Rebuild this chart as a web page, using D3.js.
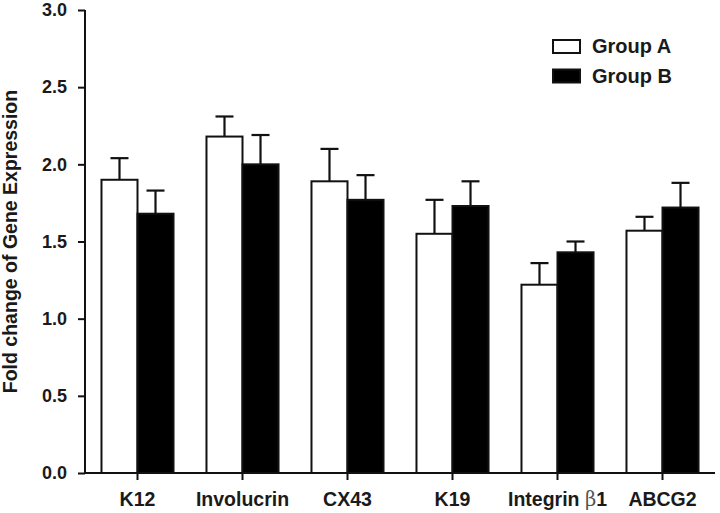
<!DOCTYPE html>
<html>
<head>
<meta charset="utf-8">
<script src="https://cdn.jsdelivr.net/npm/d3@7"></script>
<style>
  html, body { margin: 0; padding: 0; background: #fff; }
  svg { display: block; }
  text { font-family: "Liberation Sans", Arial, sans-serif; font-weight: bold; fill: #1a1a1a; }
</style>
</head>
<body>
<svg id="chart" width="720" height="513"></svg>
<script>
const categories = ["K12", "Involucrin", "CX43", "K19", "Integrin β1", "ABCG2"];
const groups = ["Group A", "Group B"];
const groupA = [1.90, 2.18, 1.89, 1.55, 1.22, 1.57];
const groupAErr = [0.14, 0.13, 0.21, 0.22, 0.14, 0.09];
const groupB = [1.68, 2.00, 1.77, 1.73, 1.43, 1.72];
const groupBErr = [0.15, 0.19, 0.16, 0.16, 0.07, 0.16];
const yTicks = [0.0, 0.5, 1.0, 1.5, 2.0, 2.5, 3.0];

(function () {
const svg = d3.select("#chart");
const mLeft = 85, mRight = 715, mTop = 10, mBottom = 473;

const x = d3.scaleBand().domain(categories).range([mLeft, mRight])
  .paddingInner(0.314).paddingOuter(0.157);
const xSub = d3.scaleBand().domain(groups).range([0, x.bandwidth()]);
const y = d3.scaleLinear().domain([0, 3]).range([mBottom, mTop]);

const fills = { "Group A": "#ffffff", "Group B": "#000000" };
const series = [
  { name: "Group A", vals: groupA, errs: groupAErr },
  { name: "Group B", vals: groupB, errs: groupBErr }
];

// error bars
series.forEach(s => {
  const g = svg.append("g");
  categories.forEach((c, i) => {
    const cx = x(c) + xSub(s.name) + xSub.bandwidth() / 2;
    const v = s.vals[i], e = s.errs[i];
    g.append("line").attr("x1", cx).attr("x2", cx)
      .attr("y1", y(v)).attr("y2", y(v + e))
      .attr("stroke", "#111").attr("stroke-width", 2.2);
    g.append("line").attr("x1", cx - 9).attr("x2", cx + 9)
      .attr("y1", y(v + e)).attr("y2", y(v + e))
      .attr("stroke", "#111").attr("stroke-width", 2.2);
  });
});

// bars
series.forEach(s => {
  svg.append("g").selectAll("rect").data(categories).join("rect")
    .attr("x", c => x(c) + xSub(s.name))
    .attr("y", (c, i) => y(s.vals[i]))
    .attr("width", xSub.bandwidth())
    .attr("height", (c, i) => y(0) - y(s.vals[i]))
    .attr("fill", fills[s.name])
    .attr("stroke", "#111").attr("stroke-width", 2);
});

// y axis
const yAxis = d3.axisLeft(y).tickValues(yTicks).tickFormat(d3.format(".1f"))
  .tickSize(7).tickPadding(11);
const gy = svg.append("g").attr("transform", `translate(${mLeft},0)`).call(yAxis);
gy.select(".domain").attr("stroke", "#111").attr("stroke-width", 2)
  .attr("d", `M0,${mBottom}V${mTop}`);
gy.selectAll(".tick line").attr("stroke", "#111").attr("stroke-width", 2);
gy.selectAll(".tick text").style("font-size", "18px").style("font-family", "Liberation Sans, Arial, sans-serif")
  .style("font-weight", "bold").attr("fill", "#1a1a1a");

// x axis
const xAxis = d3.axisBottom(x).tickSize(7).tickPadding(12);
const gx = svg.append("g").attr("transform", `translate(0,${mBottom})`).call(xAxis);
gx.select(".domain").attr("stroke", "#111").attr("stroke-width", 2)
  .attr("d", `M${mLeft},0H${mRight}`);
gx.selectAll(".tick line").attr("stroke", "#111").attr("stroke-width", 2);
gx.selectAll(".tick text").style("font-size", "19.5px").style("font-family", "Liberation Sans, Arial, sans-serif")
  .style("font-weight", "bold").attr("fill", "#1a1a1a")
  .each(function(d) {
    const t = d3.select(this);
    if (d.indexOf("β") >= 0) {
      const parts = d.split("β");
      t.text(null);
      t.append("tspan").text(parts[0]);
      t.append("tspan").text("β").attr("fill", "#555").style("font-weight", "normal")
        .style("font-family", "DejaVu Serif, serif");
      t.append("tspan").text(parts[1]);
    }
  });

// y label
svg.append("text")
  .attr("transform", `translate(17,241.5) rotate(-90)`)
  .attr("text-anchor", "middle")
  .style("font-size", "19.5px")
  .text("Fold change of Gene Expression");

// legend
const lg = svg.append("g");
series.forEach((s, i) => {
  const ly = 40 + i * 29.5;
  lg.append("rect").attr("x", 553).attr("y", ly).attr("width", 27).attr("height", 13)
    .attr("fill", fills[s.name]).attr("stroke", "#111").attr("stroke-width", 2);
  lg.append("text").attr("x", 592).attr("y", ly + 13).style("font-size", "20px").text(s.name);
});
})();
</script>
</body>
</html>
